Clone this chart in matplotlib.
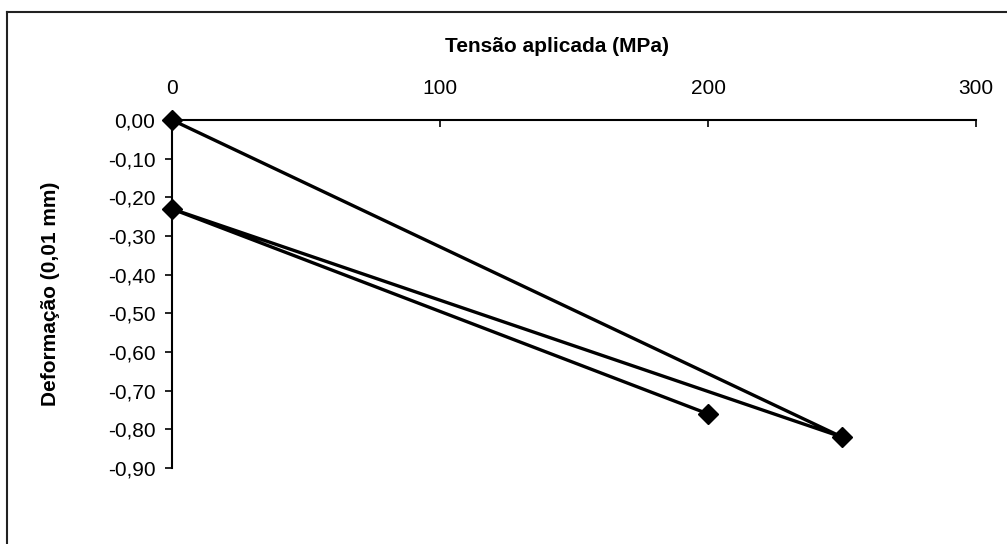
import matplotlib.pyplot as plt
from matplotlib.lines import Line2D

plt.rcParams['font.family'] = ['Liberation Sans', 'DejaVu Sans']

# ensaio de carga e descarga
tensao = [0, 250, 0, 200]
deformacao = [0.00, -0.82, -0.23, -0.76]

x_ticks = [0, 100, 200, 300]
y_ticks = [0.0, -0.1, -0.2, -0.3, -0.4, -0.5, -0.6, -0.7, -0.8, -0.9]
y_labels = ['0,00', '-0,10', '-0,20', '-0,30', '-0,40', '-0,50',
            '-0,60', '-0,70', '-0,80', '-0,90']

fig = plt.figure(figsize=(10.07, 5.44), dpi=100)
ax = fig.add_axes([172 / 1007, 1 - 468 / 544, (976 - 172) / 1007, (468 - 120) / 544])

ax.plot(tensao, deformacao, color='black', lw=2.4, marker='D', ms=10.5,
        clip_on=False, zorder=3)

ax.set_xlim(0, 300)
ax.set_ylim(-0.9, 0)

# eixo x no topo
ax.xaxis.tick_top()
ax.set_xticks(x_ticks)
ax.set_xticklabels([str(v) for v in x_ticks])
ax.tick_params(axis='x', direction='in', length=5, width=1.2, pad=16,
               labelsize=15)
ax.set_yticks(y_ticks)
ax.set_yticklabels(y_labels)
ax.tick_params(axis='y', direction='out', length=5, width=1.2, pad=7,
               labelsize=15)

ax.spines['bottom'].set_visible(False)
ax.spines['right'].set_visible(False)
ax.spines['top'].set_linewidth(1.5)
ax.spines['left'].set_linewidth(1.5)

fig.text(557 / 1007, 1 - 47 / 544, 'Tensão aplicada (MPa)', ha='center',
         va='center', fontsize=15, fontweight='bold')
fig.text(51 / 1007, 1 - 294 / 544, 'Deformação (0,01 mm)', ha='center',
         va='center', rotation=90, fontsize=15, fontweight='bold')

# moldura do gráfico
fig.add_artist(Line2D([7 / 1007, 7 / 1007], [0, 1 - 12 / 544],
                      color='#222222', lw=1.5, transform=fig.transFigure))
fig.add_artist(Line2D([7 / 1007, 1], [1 - 12 / 544, 1 - 12 / 544],
                      color='#222222', lw=1.5, transform=fig.transFigure))

fig.savefig('out.png', dpi=100)
